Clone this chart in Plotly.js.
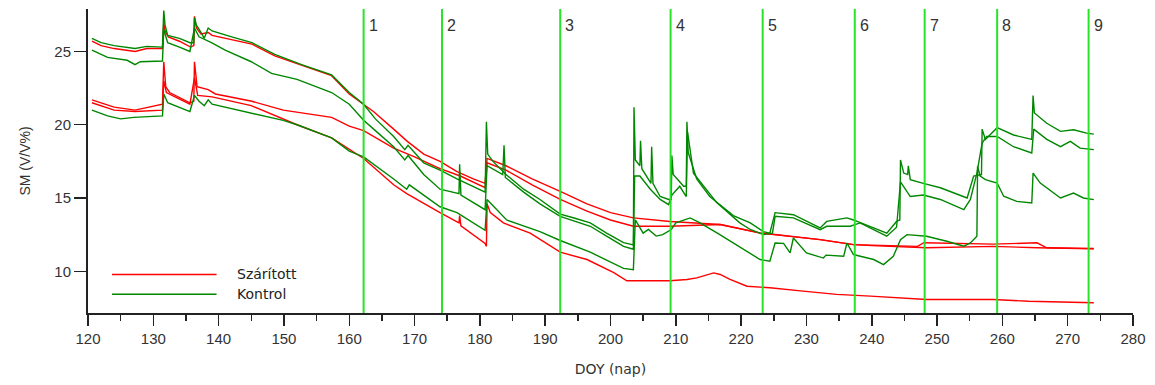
<!DOCTYPE html>
<html>
<head>
<meta charset="utf-8">
<script src="https://cdn.plot.ly/plotly-3.0.1.min.js"></script>
<style>html,body{margin:0;padding:0;background:#fff;}#chart{width:1155px;height:385px;}</style>
</head>
<body>
<div id="chart"></div>
<script>
// ---- data (DOY, SM %) ----
const szaritott1 = [[120.6,25.7],[122,25.4],[124,25.2],[127.2,25.0],[129,25.2],[131.4,25.2],[131.6,27.0],[131.8,26.4],[132.3,26.0],[134,25.7],[135.7,25.3],[136.2,25.4],[136.3,27.4],[136.6,26.6],[137.3,26.2],[138.4,26.3],[139,26.1],[142,25.8],[145.1,25.5],[148.6,24.7],[152.7,24.05],[157.3,23.35],[160,22.1],[162.2,21.4],[163.7,20.9],[166.8,19.7],[168.8,18.9],[171.4,18.0],[173.9,17.5],[176.5,16.8],[179,16.3],[180.8,16.0],[181.1,17.7],[184,17.2],[188,16.3],[192.3,15.45],[196.4,14.6],[200,14.0],[203.5,13.64],[209.1,13.4],[216.8,13.19],[222.9,12.62],[227,12.4],[232.1,12.16],[237.2,11.82],[240,11.75],[248.4,11.6],[258.6,11.7],[265.3,11.6],[274,11.53]];
const szaritott2 = [[120.6,21.7],[124,21.2],[127.2,21.0],[131.4,21.4],[131.6,24.3],[131.9,22.6],[132.5,22.2],[135.6,21.5],[136.2,21.6],[136.3,24.3],[136.7,22.6],[138.4,22.4],[139.5,22.1],[145.1,21.6],[149.9,21.0],[157.3,20.5],[160,19.9],[162.2,19.6],[166.8,18.4],[170,17.8],[173.9,17.0],[177,16.5],[180.8,15.7],[181.1,17.4],[184,16.9],[188,15.9],[192.3,14.9],[196.4,14.1],[200,13.5],[203.5,13.07],[209.1,13.07],[216.8,13.19],[222.9,12.6],[227,12.4],[232.1,12.16],[237.2,11.82],[247,11.7],[248,11.95],[258.6,11.85],[265.3,11.94],[266.8,11.6],[274,11.55]];
const szaritott3 = [[120.6,21.5],[124,21.0],[127.2,20.9],[131.4,21.0],[131.6,23.0],[132,22.2],[135.6,21.4],[136.3,23.2],[136.8,22.0],[139,21.9],[145,21.3],[149.9,20.4],[152,20.0],[157.3,19.1],[160,18.3],[162.2,17.7],[166.8,15.9],[168.8,15.3],[173.9,14.0],[176.8,13.3],[176.9,13.8],[177.1,13.1],[180.8,11.9],[181,11.7],[181.1,14.6],[181.6,14.0],[183.6,13.3],[187.7,12.6],[192.3,11.3],[196.4,10.8],[200.5,9.9],[202.5,9.35],[209.1,9.35],[211.7,9.44],[213.2,9.55],[215.8,9.89],[216.8,9.78],[218.3,9.44],[220.9,8.98],[224.4,8.87],[229.5,8.64],[234.6,8.42],[239.8,8.3],[248.4,8.07],[258.6,8.07],[264,7.95],[274,7.85]];
const kontrol1 = [[120.6,25.9],[122,25.6],[124,25.4],[127.2,25.2],[129,25.35],[131.4,25.3],[131.6,27.8],[131.8,26.8],[132.2,26.1],[134,25.9],[135.6,25.6],[136.2,25.6],[136.3,27.3],[136.6,26.8],[137.3,26.3],[137.8,25.9],[138.4,26.6],[139,26.4],[142,26.0],[145.1,25.6],[148.6,24.8],[152.7,24.1],[157.3,23.4],[160,22.2],[162.2,21.4],[164,20.4],[166.8,19.2],[168.5,18.3],[169,18.6],[171.4,17.4],[173.9,16.9],[176.5,16.3],[180.8,15.4],[181.0,20.2],[181.2,18.0],[182,17.5],[184,16.6],[186.7,15.6],[189.2,14.9],[192.3,13.9],[194.3,13.65],[196.9,13.3],[199.4,12.6],[202,11.95],[203.5,11.8],[203.6,21.2],[203.8,17.6],[204.5,17.2],[204.6,18.9],[204.8,17.0],[206.2,16.0],[206.3,18.5],[206.5,16.0],[207.6,15.1],[208.9,14.9],[209.3,14.9],[209.4,17.9],[209.6,16.6],[211.2,15.8],[211.6,15.8],[211.7,20.2],[211.9,18.1],[213.2,16.3],[215.2,15.1],[218.8,13.8],[221.4,13.3],[223.4,12.7],[224.4,12.6],[225.2,14.0],[228,13.86],[232.1,12.96],[233.1,13.4],[236.2,13.64],[237.2,13.5],[242.3,12.6],[243.8,13.4],[244.3,13.5],[244.4,17.6],[244.9,16.7],[245.5,16.6],[245.6,17.2],[245.9,16.25],[247.9,16.0],[250.5,15.7],[254.6,15.0],[255.1,15.8],[255.6,16.5],[256.8,16.6],[256.9,19.7],[257.4,19.0],[259.2,19.8],[261.7,19.3],[264.5,19.0],[264.7,22.0],[264.9,20.8],[266.8,20.1],[268.9,19.55],[270.9,19.66],[272.9,19.43],[274,19.36]];
const kontrol2 = [[120.6,25.1],[123,24.6],[126,24.4],[127.2,24.1],[128,24.3],[131.4,24.35],[131.6,26.5],[132.2,25.6],[134,25.3],[135.6,25.0],[136.3,26.6],[137,26.0],[138.9,25.6],[141,25.1],[145,24.3],[148.1,23.5],[152,23.1],[157.3,22.2],[160,21.4],[162.2,20.3],[164,19.6],[166.8,18.5],[168.5,17.6],[169,17.9],[171.4,16.6],[173.9,15.6],[176.8,15.3],[176.9,17.3],[177.1,15.2],[180.8,14.2],[181.1,17.2],[183.5,16.6],[183.7,18.6],[183.9,16.4],[186.7,15.4],[189.2,14.6],[192.3,13.75],[196.9,13.07],[199.4,12.4],[202,11.7],[203.5,11.5],[203.7,16.5],[204.5,16.5],[206.1,15.6],[207.6,14.9],[208.9,14.55],[209.4,15.2],[210.6,15.8],[211.6,15.1],[211.8,19.5],[212.7,16.7],[216.3,14.67],[219.8,13.3],[221.4,12.85],[223.4,12.5],[224.8,12.6],[225.2,13.75],[228,13.64],[232.1,12.84],[233.1,13.07],[236.7,13.07],[238.2,13.3],[242.3,12.39],[243.8,13.0],[244.4,16.1],[245.9,15.1],[247.9,15.2],[250.5,14.9],[254.1,14.2],[255.1,14.9],[256.1,16.7],[256.9,18.75],[257.6,19.2],[259.2,19.2],[261.7,18.5],[264.5,18.07],[264.8,19.7],[266.8,19.0],[268.9,18.5],[270.4,18.86],[271.9,18.4],[274,18.3]];
const kontrol3 = [[120.6,21.0],[123,20.6],[125,20.4],[127,20.5],[131.4,20.6],[131.6,22.1],[132.2,21.5],[135.6,20.9],[136.3,22.0],[137,21.6],[137.8,21.3],[138.4,21.7],[139,21.4],[145,20.8],[149.9,20.3],[152,20.0],[157.3,19.1],[160,18.2],[162.2,17.8],[166.8,16.3],[168.8,15.6],[169.2,15.9],[173.9,14.4],[176.5,14.0],[180.8,12.8],[181.1,14.9],[184.1,13.5],[189.2,12.7],[192.3,12.1],[196.9,11.3],[202,10.2],[203.5,10.1],[203.8,13.5],[205,12.6],[205.8,12.85],[207,12.4],[208,12.5],[209.3,12.85],[210,13.3],[212.2,13.64],[213.7,13.3],[216.3,12.62],[218.8,11.94],[221.4,11.26],[222.9,10.8],[224.4,10.69],[225.2,11.93],[226.5,11.9],[227.5,11.25],[228,12.27],[230,11.25],[232.6,10.9],[233,11.1],[235.7,11.02],[236.2,11.93],[237.2,11.14],[240.3,10.8],[241.8,10.45],[243.3,11.02],[244.4,12.16],[245.4,12.5],[248.4,12.39],[251.5,12.05],[254.1,11.71],[255.1,11.93],[256.1,12.39],[256.2,17.16],[256.6,16.5],[257.4,16.25],[259.2,16.02],[260.2,15.12],[262.2,14.77],[264.5,14.66],[264.7,16.7],[265.8,16.02],[268.9,15.0],[270.9,15.34],[272.4,15.0],[274,14.89]];

const seriesNames = ["Szárított", "Kontrol"];
const eventDoy = [162.2, 174.2, 192.3, 209.2, 223.3, 237.4, 248.1, 259.2, 273.2];
const eventLabels = ["1","2","3","4","5","6","7","8","9"];
const xTicks = [120,130,140,150,160,170,180,190,200,210,220,230,240,250,260,270,280];
const yTicks = [10,15,20,25];

// ---- styles ----
const RED = "rgb(255,0,0)";
const GREEN = "rgb(0,135,0)";
const EVENT_GREEN = "rgb(40,228,40)";
const AXIS = "#222";
const TXT = "#333";

function trace(pairs, color, name) {
  return {
    x: pairs.map(p => p[0]), y: pairs.map(p => p[1]),
    type: "scatter", mode: "lines", name: name, showlegend: false,
    line: {color: color, width: 1.4}, hoverinfo: "skip"
  };
}

const data = [
  trace(szaritott1, RED, seriesNames[0]),
  trace(szaritott2, RED, seriesNames[0]),
  trace(szaritott3, RED, seriesNames[0]),
  trace(kontrol1, GREEN, seriesNames[1]),
  trace(kontrol2, GREEN, seriesNames[1]),
  trace(kontrol3, GREEN, seriesNames[1])
];

const shapes = eventDoy.map(d => ({
  type: "line", xref: "x", yref: "paper", x0: d, x1: d, y0: 0, y1: 1,
  line: {color: EVENT_GREEN, width: 2}, layer: "above"
}));
const annotations = eventDoy.map((d, i) => ({
  x: d, y: 0.945, xref: "x", yref: "paper", text: eventLabels[i],
  showarrow: false, xanchor: "left", yanchor: "middle", xshift: 3,
  font: {family: "Liberation Sans, Arial, sans-serif", size: 16, color: TXT}
}));

// custom legend (long line samples as in the reference)
const legendY = [0.127, 0.062];
const legendColors = [RED, GREEN];
legendY.forEach((yy, i) => {
  shapes.push({type: "line", xref: "paper", yref: "paper", x0: 0.023, x1: 0.123, y0: yy, y1: yy,
    line: {color: legendColors[i], width: 1.5}});
  annotations.push({x: 0.141, y: yy, xref: "paper", yref: "paper", text: seriesNames[i],
    showarrow: false, xanchor: "left", yanchor: "middle",
    font: {family: "DejaVu Sans, Verdana, sans-serif", size: 14, color: "#222"}});
});

const layout = {
  width: 1155, height: 385,
  margin: {l: 88, r: 22, t: 9, b: 72},
  paper_bgcolor: "#fff", plot_bgcolor: "#fff",
  showlegend: false,
  xaxis: {
    range: [120, 280], tickvals: xTicks, ticktext: xTicks.map(String),
    ticks: "outside", ticklen: 11, tickwidth: 1.5, tickcolor: AXIS,
    showline: true, linecolor: AXIS, linewidth: 2, showgrid: false, zeroline: false,
    tickfont: {family: "Liberation Sans, Arial, sans-serif", size: 15, color: TXT},
    minor: {dtick: 5, tick0: 125, ticks: "outside", ticklen: 6, tickwidth: 1.5, tickcolor: AXIS, showgrid: false},
    title: {text: "DOY (nap)", font: {family: "DejaVu Sans, Verdana, sans-serif", size: 14, color: TXT}, standoff: 18}
  },
  yaxis: {
    range: [7.15, 27.9], tickvals: yTicks, ticktext: yTicks.map(String),
    ticks: "outside", ticklen: 12, tickwidth: 1.5, tickcolor: AXIS,
    showline: true, linecolor: AXIS, linewidth: 2, showgrid: false, zeroline: false,
    tickfont: {family: "Liberation Sans, Arial, sans-serif", size: 15, color: TXT},
    title: {text: "SM (V/V%)", font: {family: "Liberation Sans, Arial, sans-serif", size: 14, color: TXT}, standoff: 20}
  },
  shapes: shapes,
  annotations: annotations
};

Plotly.newPlot("chart", data, layout, {displayModeBar: false, staticPlot: true});
</script>
</body>
</html>
